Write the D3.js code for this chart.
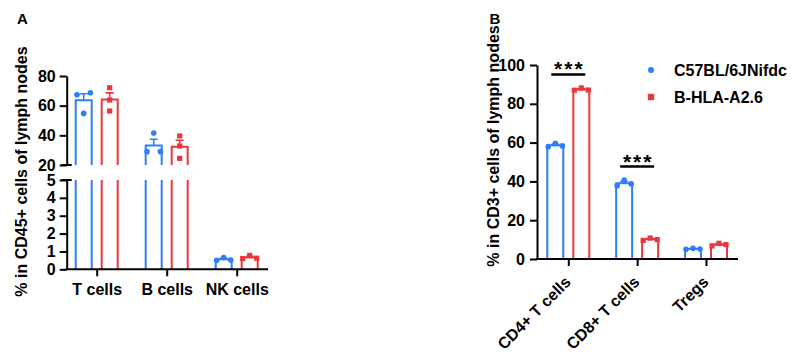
<!DOCTYPE html>
<html><head><meta charset="utf-8">
<script src="https://cdn.jsdelivr.net/npm/d3@7"></script>
<style>
html,body{margin:0;padding:0;background:#fff;}
svg text{font-family:"Liberation Sans",Arial,Helvetica,sans-serif;font-weight:bold;fill:#000;}
</style></head>
<body>
<svg id="chart" width="794" height="355"></svg>
<script>
// ---------- data ----------
const seriesNames = ["C57BL/6JNifdc", "B-HLA-A2.6"];
const categoriesA = ["T cells", "B cells", "NK cells"];
const wtA  = [[67.4, 54.8, 68.7], [29.0, 41.6, 29.0], [0.50, 0.66, 0.52]];
const hlaA = [[72.1, 63.8, 56.4], [39.6, 32.8, 24.5], [0.60, 0.78, 0.62]];
const ticksAUpper = [20, 40, 60, 80];
const ticksALower = [0, 1, 2, 3, 4, 5];
const titleA = "% in CD45+ cells of lymph nodes";

const categoriesB = ["CD4+ T cells", "CD8+ T cells", "Tregs"];
const wtB  = [[57.9, 59.6, 58.3], [37.8, 40.7, 38.7], [5.0, 5.5, 5.1]];
const hlaB = [[87.0, 88.2, 87.1], [9.6, 10.8, 10.0], [6.7, 8.1, 7.4]];
const ticksB = [0, 20, 40, 60, 80, 100];
const titleB = "% in CD3+ cells of lymph nodes";
const significance = [["CD4+ T cells", "***"], ["CD8+ T cells", "***"]];

// ---------- style ----------
const colors = ["#2D7FF9", "#E8383D"];
const svg = d3.select("#chart");
const FONT = "16px";
const FAM = '"Liberation Sans", Arial, Helvetica, sans-serif';
function txt(sel, size) {
  return sel.style("font-size", size || FONT).style("font-weight", "bold").style("font-family", FAM).style("fill", "#000");
}

function stats(v) {
  const m = d3.mean(v), sd = d3.deviation(v);
  return {mean: m, sem: sd / Math.sqrt(v.length)};
}
// symmetric spread of points that overlap vertically
function jitter(vals, yf) {
  const ys = vals.map(yf);
  const offs = vals.map(() => 0);
  const used = new Array(vals.length).fill(false);
  for (let i = 0; i < vals.length; i++) {
    if (used[i]) continue;
    const cl = [i]; used[i] = true;
    for (let j = i + 1; j < vals.length; j++) {
      if (!used[j] && cl.some(k => Math.abs(ys[k] - ys[j]) < 6)) { cl.push(j); used[j] = true; }
    }
    const k = cl.length;
    const d = k === 2 ? 6.7 : 7;
    cl.forEach((idx, n) => offs[idx] = k === 1 ? 0 : (k === 2 ? (n === 0 ? -d : d) : (n - (k - 1) / 2) * d));
  }
  return offs;
}
function drawPoint(g, s, x, y, big) {
  if (s === 0) g.append("circle").attr("cx", x).attr("cy", y).attr("r", big ? 3 : 2.8).attr("fill", colors[0]);
  else {
    const h = big ? 3.2 : 2.6;
    g.append("rect").attr("x", x - h).attr("y", y - h).attr("width", 2 * h).attr("height", 2 * h).attr("fill", colors[1]);
  }
}
function styleAxis(g) {
  g.selectAll("path,line").attr("stroke", "#000").attr("stroke-width", 2);
  txt(g.selectAll("text"));
}

// ---------- panel A ----------
const axA = 66.7;
const yUp = d3.scaleLinear().domain([20, 80]).range([165, 76]);
const yLo = d3.scaleLinear().domain([0, 5]).range([269.3, 180]);
const xA = d3.scalePoint().domain(categoriesA).range([96.7, 236.7]);
const sub = d3.scaleBand().domain([0, 1]).range([-21, 21]).paddingInner(0.385);

const gA = svg.append("g");
txt(gA.append("text").attr("x", 17).attr("y", 23.5).text("A"), "15px");

const dataA = [wtA, hlaA];
categoriesA.forEach((c, ci) => {
  [0, 1].forEach(s => {
    const vals = dataA[s][ci];
    const st = stats(vals);
    const x0 = xA(c) + sub(s), x1 = x0 + sub.bandwidth();
    const xc = (x0 + x1) / 2;
    const g = gA.append("g");
    const line = (d) => g.append("path").attr("d", d).attr("fill", "none")
      .attr("stroke", colors[s]).attr("stroke-width", 2);
    const broken = st.mean > 5;
    const yf = v => (broken && v > 5) ? yUp(v) : yLo(v);
    if (broken) {
      line(`M${x0},${yLo(0)}V${yLo(5)}M${x1},${yLo(0)}V${yLo(5)}`);
      line(`M${x0},${yUp(20)}V${yUp(st.mean)}H${x1}V${yUp(20)}`);
    } else {
      line(`M${x0},${yLo(0)}V${yLo(st.mean)}H${x1}V${yLo(0)}`);
    }
    const yt = yf(st.mean + st.sem);
    g.append("path").attr("d", `M${xc},${yf(st.mean)}V${yt}M${xc - 4},${yt}H${xc + 4}`)
      .attr("stroke", colors[s]).attr("stroke-width", 1.6).attr("fill", "none");
    const offs = jitter(vals, yf);
    vals.forEach((v, i) => drawPoint(g, s, xc + offs[i], yf(v)));
  });
});

const axUp = gA.append("g").attr("transform", `translate(${axA},0)`)
  .call(d3.axisLeft(yUp).tickValues(ticksAUpper).tickFormat(d3.format("d")).tickSize(7).tickSizeOuter(0).tickPadding(4));
styleAxis(axUp);
const axLo = gA.append("g").attr("transform", `translate(${axA},0)`)
  .call(d3.axisLeft(yLo).tickValues(ticksALower).tickFormat(d3.format("d")).tickSize(7).tickSizeOuter(0).tickPadding(4));
styleAxis(axLo);
// break caps
gA.append("path").attr("d", `M${axA - 5},${yUp(20)}H${axA + 5}M${axA - 5},${yLo(5)}H${axA + 5}`)
  .attr("stroke", "#000").attr("stroke-width", 2);
// x axis
gA.append("line").attr("x1", axA - 1).attr("x2", 268).attr("y1", yLo(0)).attr("y2", yLo(0))
  .attr("stroke", "#000").attr("stroke-width", 2);
const axXA = gA.append("g").attr("transform", `translate(0,${yLo(0)})`)
  .call(d3.axisBottom(xA).tickSize(7).tickSizeOuter(0).tickPadding(7));
axXA.select(".domain").remove();
styleAxis(axXA);
txt(gA.append("text").attr("transform", `translate(27,171.5) rotate(-90)`)
  .attr("text-anchor", "middle").text(titleA));

// ---------- panel B ----------
const axB = 537;
const yB = d3.scaleLinear().domain([0, 100]).range([259, 65]);
const xB = d3.scalePoint().domain(categoriesB).range([568.3, 706]);
const gB = svg.append("g");
txt(gB.append("text").attr("x", 489.5).attr("y", 23.5).text("B"), "15px");

const dataB = [wtB, hlaB];
categoriesB.forEach((c, ci) => {
  [0, 1].forEach(s => {
    const vals = dataB[s][ci];
    const st = stats(vals);
    const x0 = xB(c) + sub(s), x1 = x0 + sub.bandwidth();
    const xc = (x0 + x1) / 2;
    const g = gB.append("g");
    g.append("path").attr("d", `M${x0},${yB(0)}V${yB(st.mean)}H${x1}V${yB(0)}`)
      .attr("fill", "none").attr("stroke", colors[s]).attr("stroke-width", 2);
    const yt = yB(st.mean + st.sem);
    g.append("path").attr("d", `M${xc},${yB(st.mean)}V${yt}M${xc - 4},${yt}H${xc + 4}`)
      .attr("stroke", colors[s]).attr("stroke-width", 1.6).attr("fill", "none");
    const offs = jitter(vals, yB);
    vals.forEach((v, i) => drawPoint(g, s, xc + offs[i], yB(v)));
  });
});

const axYB = gB.append("g").attr("transform", `translate(${axB},0)`)
  .call(d3.axisLeft(yB).tickValues(ticksB).tickSize(7).tickSizeOuter(0).tickPadding(5));
styleAxis(axYB);
gB.append("line").attr("x1", axB - 1).attr("x2", 738).attr("y1", yB(0)).attr("y2", yB(0))
  .attr("stroke", "#000").attr("stroke-width", 2);
const axXB = gB.append("g").attr("transform", `translate(0,${yB(0)})`)
  .call(d3.axisBottom(xB).tickSize(7).tickSizeOuter(0));
axXB.select(".domain").remove();
styleAxis(axXB);
axXB.selectAll("text").attr("text-anchor", "end").attr("dy", null).attr("y", null)
  .attr("transform", "translate(3,24) rotate(-45)");
txt(gB.append("text").attr("transform", `translate(499,146) rotate(-90)`)
  .attr("text-anchor", "middle").text(titleB));

// significance
significance.forEach(([cat, lab]) => {
  const ci = categoriesB.indexOf(cat);
  const mx = d3.max([...wtB[ci], ...hlaB[ci]]);
  const yl = yB(mx) - 13.5, xc = xB(cat);
  gB.append("line").attr("x1", xc - 17).attr("x2", xc + 17).attr("y1", yl).attr("y2", yl)
    .attr("stroke", "#000").attr("stroke-width", 2.5);
  txt(gB.append("text").attr("x", xc + 1).attr("y", yl + 2).attr("text-anchor", "middle")
    .attr("letter-spacing", 2).text(lab), "21px");
});

// legend
const leg = gB.append("g");
seriesNames.forEach((n, i) => {
  const y = 70 + i * 27;
  drawPoint(leg, i, 651, y, true);
  txt(leg.append("text").attr("x", 674).attr("y", y + 5.8).text(n));
});
</script>
</body></html>
